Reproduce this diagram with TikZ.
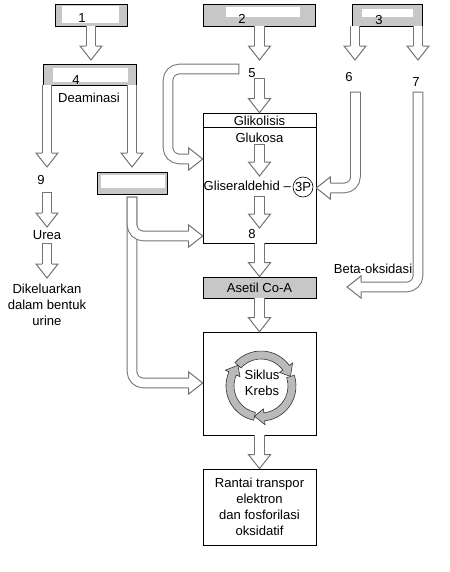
\documentclass[tikz,border=0pt]{standalone}
\usepackage{fontspec}
\setmainfont{Liberation Sans}
\usetikzlibrary{calc,positioning}

% hollow head of a block arrow: tip, direction
\newcommand{\bhead}[2]{%
  \begin{scope}[shift={#1},rotate=#2]
    \fill[white] (0,0) -- (-14,11) -- (-14,-11) -- cycle;
    \draw[headline] (-14,4.8) -- (-14,11) -- (0,0) -- (-14,-11) -- (-14,-4.8);
  \end{scope}}

\begin{document}
\begin{tikzpicture}[
  x=0.35mm, y=0.35mm,
  font=\fontsize{13}{16}\selectfont,
  graybox/.style={rectangle,draw=black,line width=0.7pt,fill=black!22,inner sep=0pt},
  stage/.style={rectangle,draw=black,line width=0.7pt,fill=white,inner sep=0pt,
    minimum width=39.5mm,align=center},
  lbl/.style={inner sep=1pt,align=center},
  shaft/.style={draw=black!55,line width=1pt,double=white,double distance=8.5pt},
  capped/.style={shaft,line cap=rect},
  bent/.style={capped,rounded corners=4mm,shorten >=4.9mm},
  headline/.style={draw=black!55,line width=1pt,line join=miter},
  ring/.style={fill=black!27,draw=black!80,line width=0.6pt}
]
\useasboundingbox (0,0) rectangle (449,-572);

% Source boxes
\node[graybox,minimum width=25.2mm,minimum height=7.7mm] (b1) at (91,-15) {};
\node[graybox,minimum width=39.2mm,minimum height=7.7mm] (b2) at (259,-15) {};
\node[graybox,minimum width=24.5mm,minimum height=7.7mm] (b3) at (387,-15) {};
\node[graybox,minimum width=32.5mm,minimum height=7.35mm] (b4) at (89.5,-74.5) {};
\node[graybox,minimum width=24.5mm,minimum height=7.7mm] (bA) at (132,-183) {};

% blanked labels
\fill[white] (62,-6) rectangle (119,-23);
\fill[white] (226,-7) rectangle (300,-17);
\fill[white] (362,-9) rectangle (413,-17);
\fill[white] (53,-68) rectangle (128,-82);
\fill[white] (101,-175) rectangle (165,-188);

\node[lbl] (l1) at (82,-18.5) {1};
\node[lbl] (l2) at (242,-18.5) {2};
\node[lbl] (l3) at (379,-20) {3};
\node[lbl] (l4) at (76,-80) {4};
\node[lbl] (deam) at (89,-98) {Deaminasi};

% Labels between the steps
\node[lbl] (n5) at (252,-73) {5};
\node[lbl] (n6) at (349,-77) {6};
\node[lbl] (n7) at (416,-82) {7};
\node[lbl] (n9) at (41,-180) {9};
\node[lbl] (urea) at (47,-235) {Urea};
\node[lbl] (urine) at (47,-305) {Dikeluarkan\\dalam bentuk\\urine};
\node[lbl] (beta) at (373,-269) {Beta-oksidasi};

% Glycolysis box
\node[stage,minimum height=45.5mm] (glik) at (259.5,-178) {};
\draw[line width=0.7pt] ($(glik.north west)+(0,-15)$) -- ($(glik.north east)+(0,-15)$);
\node[lbl] (gliktitle) at (259.5,-120.5) {Glikolisis};
\node[lbl] (glukosa) at (259.5,-138) {Glukosa};
\node[lbl,anchor=east] (gliser) at (292,-186) {Gliseraldehid –};
\node[circle,draw,line width=0.6pt,inner sep=0pt,minimum size=7mm] (p3) at (303,-187) {3P};
\node[lbl] (n8) at (252,-234) {8};

% Lower column
\node[graybox,minimum width=39.5mm,minimum height=7.35mm] (asetil) at (259.5,-287.5) {Asetil Co-A};
\node[stage,minimum height=36mm] (krebs) at (259.5,-383.5) {};
\node[stage,minimum height=26.6mm] (rantai) at (259.5,-507)
  {Rantai transpor\\elektron\\dan fosforilasi\\oksidatif};

% Krebs ring
\begin{scope}[shift={(261,-386)}]
\foreach \t in {18,258,138}{
  \pgfmathsetmacro\h{\t+18}
  \pgfmathsetmacro\s{\t+120}
  \filldraw[ring] (\s:35) arc[start angle=\s,end angle=\h,radius=35] -- (\h:39) -- (\t:31)
    -- (\h:23) -- (\h:27) arc[start angle=\h,end angle=\s,radius=27] -- cycle;
}
\end{scope}
\node[lbl] (kt) at (262,-383) {Siklus\\Krebs};

% arrow ends
\coordinate (a1) at (91,-60);
\coordinate (a2) at (259.5,-60);
\coordinate (c5) at (259.5,-83);
\coordinate (a4) at (355,-60);
\coordinate (a5) at (418,-60);
\coordinate (a6) at (47,-167);
\coordinate (a7) at (132,-167);
\coordinate (c9) at (47,-197);
\coordinate (a9) at (47,-227);
\coordinate (cu) at (47,-248);
\coordinate (au) at (47,-278);
\coordinate (g1) at (259.5,-149);
\coordinate (g2) at (259.5,-176);
\coordinate (g3) at (259.5,-201);
\coordinate (g4) at (259.5,-228);
\coordinate (c5b) at (234,-69);
\coordinate (g5) at (glik.west |- 0,-159);
\coordinate (c6) at (355.5,-97);
\coordinate (g6) at (glik.east |- 0,-188);
\coordinate (c7) at (418,-97);
\coordinate (a7b) at (347,-287);
\coordinate (cA) at (132,-202);
\coordinate (gA) at (glik.west |- 0,-236);
\coordinate (kA) at (krebs.west |- 0,-383);
\coordinate (a3) at (c5 |- glik.north);

% Arrows from the sources
\draw[shaft] (a1 |- b1.south) -- ($(a1)+(0,14)$); \bhead{(a1)}{-90}
\draw[shaft] (a2 |- b2.south) -- ($(a2)+(0,14)$); \bhead{(a2)}{-90}
\draw[shaft] (a4 |- b3.south) -- ($(a4)+(0,14)$); \bhead{(a4)}{-90}
\draw[shaft] (a5 |- b3.south) -- ($(a5)+(0,14)$); \bhead{(a5)}{-90}

% Deamination branch
\draw[shaft] (a6 |- b4.south) -- ($(a6)+(0,14)$); \bhead{(a6)}{-90}
\draw[shaft] (a7 |- b4.south) -- ($(a7)+(0,14)$); \bhead{(a7)}{-90}
\draw[capped] (c9) -- ($(a9)+(0,14)$); \bhead{(a9)}{-90}
\draw[capped] (cu) -- ($(au)+(0,14)$); \bhead{(au)}{-90}
\draw[bent] (cA) |- (kA); \bhead{(kA)}{0}
\draw[bent] (cA) |- (gA); \bhead{(gA)}{0}

% Main column
\draw[capped] (c5) -- ($(a3)+(0,14)$); \bhead{(a3)}{-90}
\draw[bent] (c5b) -- ++(-66,0) |- (g5); \bhead{(g5)}{0}
\draw[capped] (g1) -- ($(g2)+(0,14)$); \bhead{(g2)}{-90}
\draw[capped] (g3) -- ($(g4)+(0,14)$); \bhead{(g4)}{-90}
\draw[shaft] (glik.south) -- ($(asetil.north)+(0,14)$); \bhead{(asetil.north)}{-90}
\draw[shaft] (asetil.south) -- ($(krebs.north)+(0,14)$); \bhead{(krebs.north)}{-90}
\draw[shaft] (krebs.south) -- ($(rantai.north)+(0,14)$); \bhead{(rantai.north)}{-90}

% Fat and glycerol routes
\draw[bent] (c6) |- (g6); \bhead{(g6)}{180}
\draw[bent] (c7) |- (a7b); \bhead{(a7b)}{180}

\end{tikzpicture}
\end{document}
